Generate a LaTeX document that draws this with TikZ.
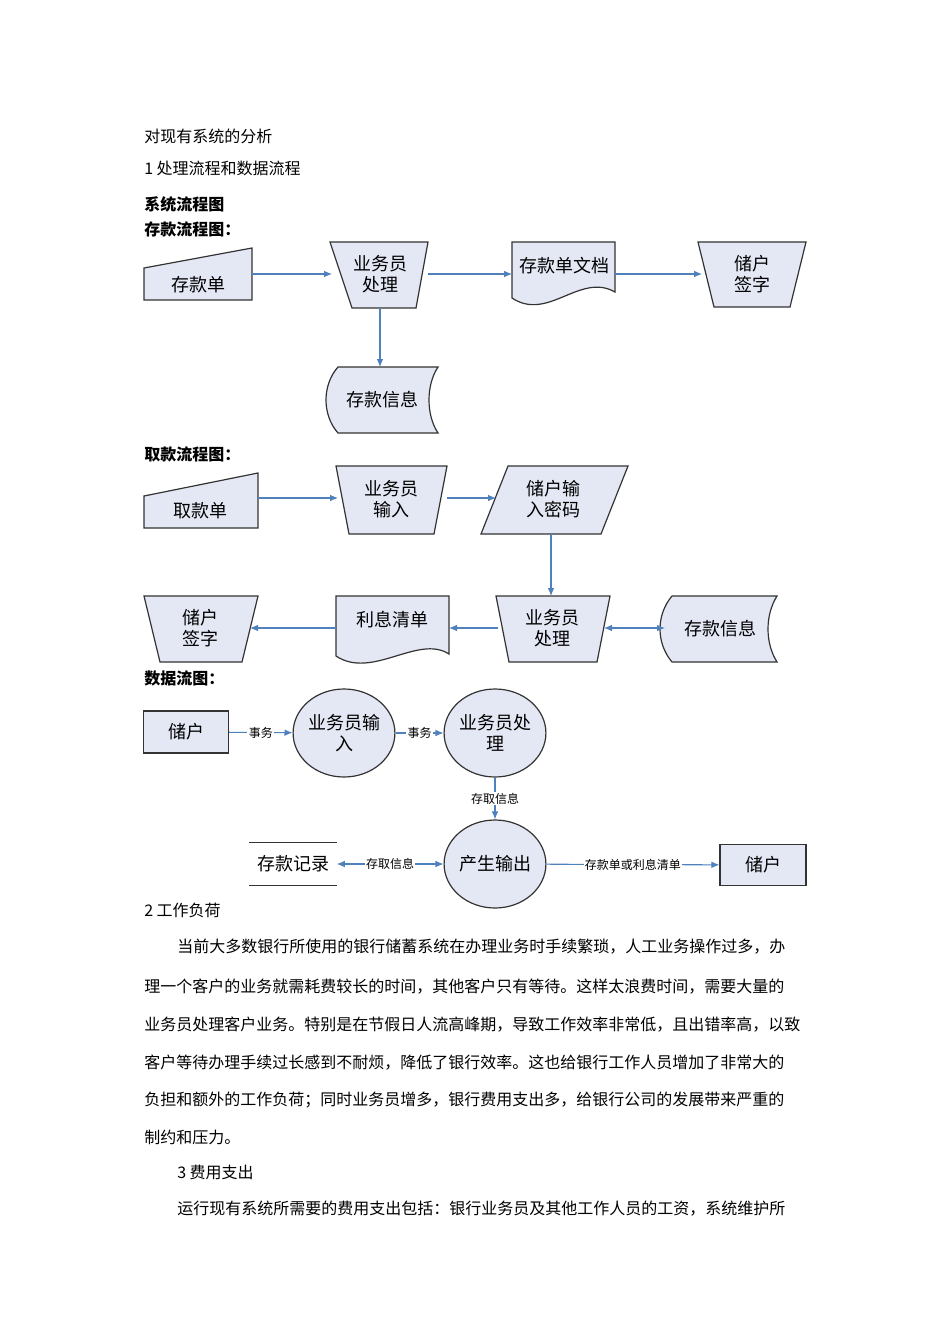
\documentclass[tikz,border=0pt]{standalone}
\usepackage{fontspec}
\setmainfont{Liberation Serif}
\newfontfamily\cjk{Noto Sans CJK SC}
\usetikzlibrary{arrows.meta,shapes.geometric}
\definecolor{shp}{HTML}{E4E8F4}
\definecolor{arr}{HTML}{4F81BD}
\begin{document}
\begin{tikzpicture}[x=0.75pt,y=-0.75pt,
 fbox/.style={draw=black!80,fill=shp,line width=0.9pt},
 lab/.style={font=\cjk\fontsize{13.5}{16}\selectfont,align=center,inner sep=0pt},
 flow/.style={draw=arr,line width=0.8pt,-{Latex[length=6pt,width=5pt]}},
 sm/.style={font=\cjk\fontsize{9}{10}\selectfont,fill=white,inner sep=1pt},
 body/.style={font=\cjk\fontsize{12}{14}\selectfont,anchor=west,inner sep=0pt},
 head/.style={font=\cjk\bfseries\fontsize{12}{14}\selectfont,anchor=west,inner sep=0pt}]
\fill[white] (0,0) rectangle (950,1344);
\useasboundingbox (0,0) rectangle (950,1344);
% text
\node[body] (t1) at (144,136) {对现有系统的分析};
\node[body] (t2) at (144,168) {1 处理流程和数据流程};
\node[head] (t3) at (144,204) {系统流程图};
\node[head] (t4) at (144,229) {存款流程图：};
\node[head] (t5) at (144,454) {取款流程图：};
\node[head] (t6) at (144,678) {数据流图：};
\node[body] (t7) at (144,910) {2 工作负荷};
\node[body] (p1) at (177,947) {当前大多数银行所使用的银行储蓄系统在办理业务时手续繁琐，人工业务操作过多，办};
\node[body] (p2) at (144,987) {理一个客户的业务就需耗费较长的时间，其他客户只有等待。这样太浪费时间，需要大量的};
\node[body] (p3) at (144,1025) {业务员处理客户业务。特别是在节假日人流高峰期，导致工作效率非常低，且出错率高，以致};
\node[body] (p4) at (144,1063) {客户等待办理手续过长感到不耐烦，降低了银行效率。这也给银行工作人员增加了非常大的};
\node[body] (p5) at (144,1100) {负担和额外的工作负荷；同时业务员增多，银行费用支出多，给银行公司的发展带来严重的};
\node[body] (p6) at (144,1137) {制约和压力。};
\node[body] (t8) at (177,1172) {3 费用支出};
\node[body] (p7) at (177,1209) {运行现有系统所需要的费用支出包括：银行业务员及其他工作人员的工资，系统维护所};
% ---- deposit flow
\draw[fbox] (144,268) -- (252,248) -- (252,300) -- (144,300) -- cycle;
\node[lab] (a1) at (198,285) {存款单};
\draw[fbox] (330,242) -- (428,242) -- (416,308) -- (352,308) -- cycle;
\node[lab] (a2) at (380,274) {业务员\\处理};
\draw[fbox] (512,242) -- (615,242) -- (615,292) .. controls (580,272) and (548,322) .. (512,298) -- cycle;
\node[lab] (a3) at (564,266) {存款单文档};
\draw[fbox] (698,242) -- (806,242) -- (790,307) -- (714,307) -- cycle;
\node[lab] (a4) at (752,274) {储户\\签字};
\draw[fbox] (338,367) -- (438,367) .. controls (426,385) and (426,415) .. (438,433) -- (338,433) .. controls (322,415) and (322,385) .. (338,367) -- cycle;
\node[lab] (a5) at (382,400) {存款信息};
\coordinate (c1) at (252,274); \coordinate (c2) at (332,274);
\coordinate (c3) at (428,274); \coordinate (c4) at (512,274);
\coordinate (c5) at (615,274); \coordinate (c6) at (702,274);
\coordinate (c7) at (380,308); \coordinate (c8) at (380,367);
\draw[flow] (c1) -- (c2); \draw[flow] (c3) -- (c4); \draw[flow] (c5) -- (c6); \draw[flow] (c7) -- (c8);
% ---- withdraw flow
\draw[fbox] (144,496) -- (258,473) -- (258,528) -- (144,528) -- cycle;
\node[lab] (b1) at (200,511) {取款单};
\draw[fbox] (336,466) -- (447,466) -- (434,534) -- (349,534) -- cycle;
\node[lab] (b2) at (391,499) {业务员\\输入};
\draw[fbox] (508,466) -- (628,466) -- (601,534) -- (481,534) -- cycle;
\node[lab] (b3) at (553,499) {储户输\\入密码};
\draw[fbox] (144,596) -- (258,596) -- (242,662) -- (160,662) -- cycle;
\node[lab] (b4) at (200,628) {储户\\签字};
\draw[fbox] (336,596) -- (449,596) -- (449,654) .. controls (418,634) and (372,680) .. (336,656) -- cycle;
\node[lab] (b5) at (392,620) {利息清单};
\draw[fbox] (496,596) -- (610,596) -- (597,662) -- (509,662) -- cycle;
\node[lab] (b6) at (552,628) {业务员\\处理};
\draw[fbox] (672,596) -- (777,596) .. controls (765,615) and (765,643) .. (777,662) -- (672,662) .. controls (656,643) and (656,615) .. (672,596) -- cycle;
\node[lab] (b7) at (720,629) {存款信息};
\coordinate (d1) at (258,498); \coordinate (d2) at (338,498);
\coordinate (d3) at (447,498); \coordinate (d4) at (496,498);
\coordinate (d5) at (551,534); \coordinate (d6) at (551,596);
\coordinate (d7) at (498,628); \coordinate (d8) at (449,628);
\coordinate (d9) at (336,628); \coordinate (d10) at (250,628);
\coordinate (d11) at (604,628); \coordinate (d12) at (665,628);
\draw[flow] (d1) -- (d2); \draw[flow] (d3) -- (d4); \draw[flow] (d5) -- (d6);
\draw[flow] (d7) -- (d8); \draw[flow] (d9) -- (d10);
\draw[flow,{Latex[length=6pt,width=5pt]}-{Latex[length=6pt,width=5pt]}] (d11) -- (d12);
% ---- data flow
\node[fbox,rectangle,minimum width=85*0.75pt,minimum height=42*0.75pt,lab] (e1) at (186,732) {储户};
\node[fbox,ellipse,minimum width=84*0.75pt,minimum height=88*0.75pt,inner sep=0pt,lab] (e2) at (344,733) {业务员输\\入};
\node[fbox,ellipse,minimum width=84*0.75pt,minimum height=88*0.75pt,inner sep=0pt,lab] (e3) at (495,733) {业务员处\\理};
\node[fbox,ellipse,minimum width=84*0.75pt,minimum height=88*0.75pt,inner sep=0pt,lab] (e4) at (495,864) {产生输出};
\node[fbox,rectangle,minimum width=86*0.75pt,minimum height=41*0.75pt,lab] (e5) at (763,865) {储户};
\node[lab,minimum width=87*0.75pt,minimum height=42*0.75pt] (e6) at (293,864) {存款记录};
\draw[black!80,line width=0.9pt] (e6.north west) -- (e6.north east) (e6.south west) -- (e6.south east);
\draw[flow] (e1) -- node[sm]{事务} (e2);
\draw[flow] (e2) -- node[sm]{事务} (e3);
\draw[flow] (e3) -- node[sm]{存取信息} (e4);
\draw[flow,{Latex[length=6pt,width=5pt]}-{Latex[length=6pt,width=5pt]}] (e6.east) -- node[sm]{存取信息} (e4);
\draw[flow] (e4) -- node[sm]{存款单或利息清单} (e5);
\end{tikzpicture}
\end{document}
